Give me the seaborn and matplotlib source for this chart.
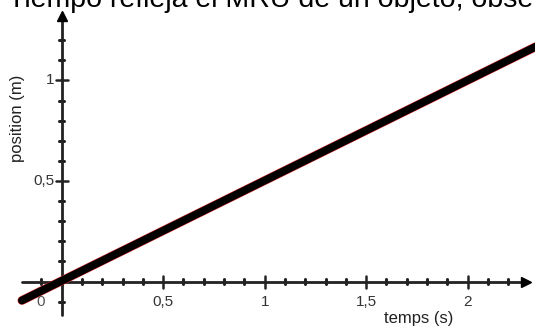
import numpy as np
import pandas as pd
import matplotlib
matplotlib.use('Agg')
import matplotlib.pyplot as plt
import seaborn as sns

# values
time_s = [-0.196, 2.40]
position_m = [-0.094, 1.20]
x_ticks = [0.5, 1.0, 1.5, 2.0]
x_tick_labels = ['0,5', '1', '1,5', '2']
y_ticks = [0.5, 1.0]
y_tick_labels = ['0,5', '1']
title = 'Tiempo refleja el MRU de un objeto, obse'

df = pd.DataFrame({'temps': time_s, 'position': position_m})

sns.set_style('white')
plt.rcParams['font.family'] = ['Liberation Sans', 'DejaVu Sans']

fig = plt.figure(figsize=(5.35, 3.26), dpi=100)
ax = fig.add_axes([0, 0, 1, 1])
ax.set_xlim(-0.304, 2.332)
ax.set_ylim(-0.221, 1.400)

axis_col = '#222222'
lab_col = '#333333'
# axes drawn through the origin, with arrow heads
ax.plot([-0.195, 2.28], [0, 0], color=axis_col, lw=2, zorder=2)
ax.plot([0, 0], [-0.167, 1.31], color=axis_col, lw=2, zorder=2)
ax.plot([2.29], [0], marker='>', color='black', markersize=7, zorder=2)
ax.plot([0], [1.32], marker='^', color='black', markersize=7, zorder=2)

# minor and major ticks
for v in np.arange(-0.1, 2.21, 0.1):
    big = any(abs(v - t) < 1e-6 for t in x_ticks)
    h = 0.03 if big else 0.013
    ax.plot([v, v], [-h, h], color=axis_col, lw=1.8 if big else 2.2, zorder=2)
for v in np.arange(-0.1, 1.21, 0.1):
    big = any(abs(v - t) < 1e-6 for t in y_ticks)
    h = 0.03 if big else 0.013
    ax.plot([-h, h], [v, v], color=axis_col, lw=1.8 if big else 2.2, zorder=2)

# tick labels
for t, lab in zip(x_ticks, x_tick_labels):
    ax.text(t, -0.102, lab, ha='center', va='center', fontsize=11, color=lab_col)
ax.text(-0.105, -0.102, '0', ha='center', va='center', fontsize=11, color='#555555')
for t, lab in zip(y_ticks, y_tick_labels):
    ax.text(-0.035, t, lab, ha='right', va='center', fontsize=11, color=lab_col)

ax.text(1.76, -0.183, 'temps (s)', ha='center', va='center', fontsize=12, color='#222222')
ax.text(-0.22, 0.81, 'position (m)', ha='center', va='center', rotation=90,
        fontsize=12, color='#222222')

# the motion line
sns.lineplot(data=df, x='temps', y='position', ax=ax, color='#cc2222', lw=6.3, zorder=3)
sns.lineplot(data=df, x='temps', y='position', ax=ax, color='black', lw=5.5, zorder=4,
             solid_capstyle='round')

ax.set_xlabel('')
ax.set_ylabel('')
ax.set_xticks([])
ax.set_yticks([])
for s in ax.spines.values():
    s.set_visible(False)

fig.text(8 / 535, 1 - 7 / 326, title, ha='left', va='baseline', fontsize=20.5, color='black')

fig.savefig('out.png', dpi=100)
